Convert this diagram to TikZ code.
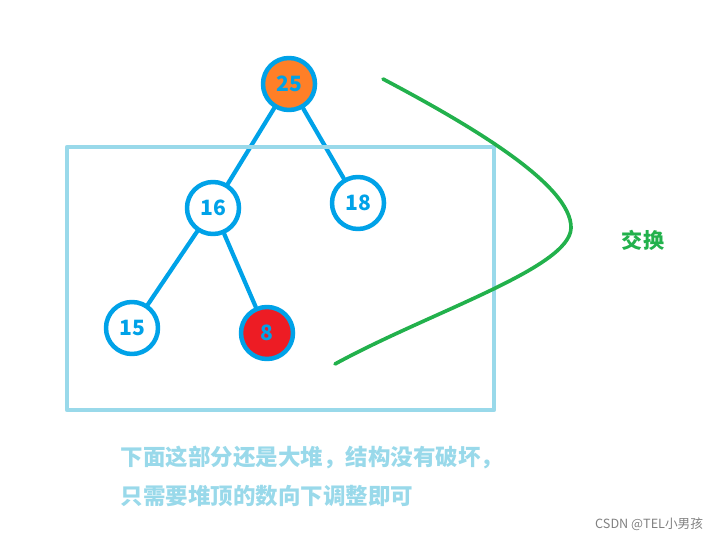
\documentclass[tikz,border=0pt]{standalone}
\usepackage{fontspec}
\setmainfont{Noto Sans CJK SC}
\definecolor{heapblue}{HTML}{00A2E8}
\definecolor{boxblue}{HTML}{99D9EA}
\definecolor{swapgreen}{HTML}{22B14C}
\definecolor{toporange}{HTML}{FF7F27}
\definecolor{lastred}{HTML}{ED1C24}
\begin{document}
\begin{tikzpicture}[x=0.025cm,y=-0.025cm,line join=round,line cap=round,
	heapnode/.style={circle,draw=heapblue,line width=3.2pt,fill=white,minimum size=1.3cm,inner sep=0pt,
		text=heapblue,font=\fontsize{15}{17}\selectfont\bfseries},
	heapedge/.style={draw=heapblue,line width=3pt}]
	\useasboundingbox (0,0) rectangle (720,543);
	\node[heapnode,fill=toporange] (n25) at (289,84) {25};
	\node[heapnode] (n16) at (213,208) {16};
	\node[heapnode] (n18) at (358,203) {18};
	\node[heapnode] (n15) at (132,328) {15};
	\node[heapnode,fill=lastred] (n8) at (267,333) {8};
	\draw[heapedge] (n25)--(n16);
	\draw[heapedge] (n25)--(n18);
	\draw[heapedge] (n16)--(n15);
	\draw[heapedge] (n16)--(n8);
	\draw[boxblue,line width=3pt] (67,147) rectangle (494,410);
	% swap arc
	\coordinate (arcA) at (383,79);
	\coordinate (arcB) at (335,364);
	\draw[swapgreen,line width=2.6pt] (arcA) .. controls (470,125) and (572,185) .. (571,228)
		.. controls (570,268) and (430,312) .. (arcB);
	\node[text=swapgreen,font=\fontsize{15}{17}\selectfont\bfseries] (swap) at (643,240) {交换};
	\node[text=boxblue,font=\fontsize{16}{18}\selectfont\bfseries,anchor=west] (line1) at (116,458) {下面这部分还是大堆，结构没有破坏，};
	\node[text=boxblue,font=\fontsize{16}{18}\selectfont\bfseries,anchor=west] (line2) at (116,496) {只需要堆顶的数向下调整即可};
	\node[text=gray,font=\fontsize{9}{11}\selectfont,anchor=east] (mark) at (708,524) {CSDN @TEL小男孩};
\end{tikzpicture}
\end{document}
